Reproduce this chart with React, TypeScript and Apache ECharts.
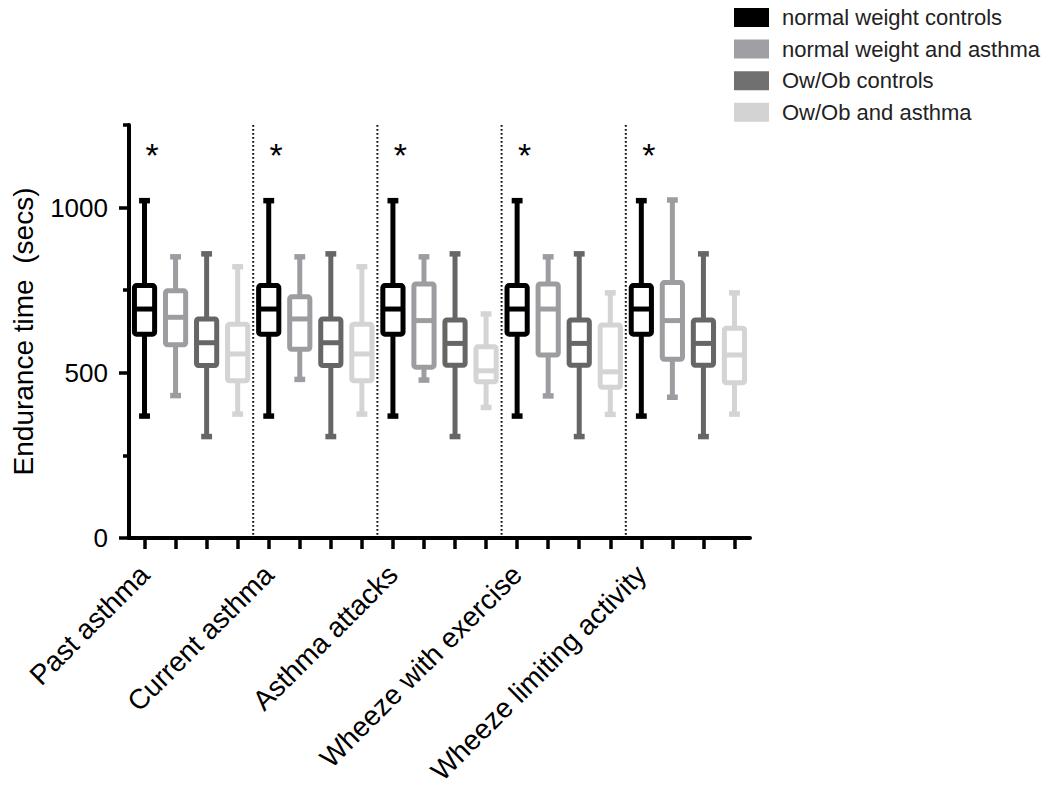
import React, { useEffect, useRef } from "react";
import * as echarts from "echarts";

const groups = [
  "Past asthma",
  "Current asthma",
  "Asthma attacks",
  "Wheeze with exercise",
  "Wheeze limiting activity",
];
const seriesNames = [
  "normal weight controls",
  "normal weight and asthma",
  "Ow/Ob controls",
  "Ow/Ob and asthma",
];
const seriesColors = ["#000000", "#9d9da1", "#666666", "#d4d4d4"];
const legendColors = ["#000000", "#a0a0a4", "#707070", "#d3d3d3"];

// [min, q1, median, q3, max] per group
const nwControls = [
  [369, 617, 693, 764, 1021],
  [369, 617, 693, 764, 1021],
  [369, 617, 693, 764, 1021],
  [369, 617, 693, 764, 1021],
  [369, 617, 693, 764, 1021],
];
const nwAsthma = [
  [431, 585, 668, 748, 851],
  [480, 571, 663, 730, 851],
  [478, 517, 658, 769, 851],
  [430, 554, 693, 769, 851],
  [426, 541, 658, 773, 1023],
];
const owobControls = [
  [307, 522, 591, 663, 860],
  [307, 522, 591, 663, 860],
  [307, 523, 589, 660, 860],
  [307, 523, 589, 660, 860],
  [307, 523, 589, 660, 860],
];
const owobAsthma = [
  [375, 476, 557, 647, 821],
  [375, 476, 557, 647, 821],
  [395, 473, 506, 579, 678],
  [374, 456, 503, 645, 742],
  [375, 470, 554, 635, 742],
];
const allSeries = [nwControls, nwAsthma, owobControls, owobAsthma];

const significantGroups = [0, 1, 2, 3, 4];
const asteriskValue = 1160;
const yMajorTicks = [0, 500, 1000];
const yMinorTicks = [250, 750, 1250];
const yMax = 1250;

const FONT = "'Liberation Sans', Arial, Helvetica, sans-serif";

export default function App() {
  const ref = useRef<HTMLDivElement>(null);

  useEffect(() => {
    if (!ref.current) return;
    const chart = echarts.init(ref.current, null, { renderer: "svg" });
    const nS = seriesNames.length;
    const slots = groups.flatMap((g) => seriesNames.map((s) => g + " | " + s));

    const boxSeries = allSeries.map((arr, s) => ({
      name: seriesNames[s],
      type: "custom",
      xAxisIndex: 0,
      yAxisIndex: 0,
      itemStyle: { color: seriesColors[s] },
      encode: { x: 0, y: [1, 2, 3, 4, 5] },
      data: arr.map((v, g) => [g * nS + s, ...v]),
      renderItem: (params: any, api: any) => {
        const idx = api.value(0);
        const lo = api.coord([idx, api.value(1)]);
        const q1 = api.coord([idx, api.value(2)]);
        const md = api.coord([idx, api.value(3)]);
        const q3 = api.coord([idx, api.value(4)]);
        const hi = api.coord([idx, api.value(5)]);
        const band = api.size([1, 0])[0];
        const bw = band * 0.65;
        const cw = band * 0.35;
        const cx = lo[0];
        const c = seriesColors[s];
        const lw = 5;
        return {
          type: "group",
          children: [
            { type: "line", shape: { x1: cx, y1: hi[1], x2: cx, y2: q3[1] }, style: { stroke: c, lineWidth: lw } },
            { type: "line", shape: { x1: cx, y1: q1[1], x2: cx, y2: lo[1] }, style: { stroke: c, lineWidth: lw } },
            { type: "line", shape: { x1: cx - cw / 2, y1: hi[1], x2: cx + cw / 2, y2: hi[1] }, style: { stroke: c, lineWidth: 5.5 } },
            { type: "line", shape: { x1: cx - cw / 2, y1: lo[1], x2: cx + cw / 2, y2: lo[1] }, style: { stroke: c, lineWidth: 5.5 } },
            {
              type: "rect",
              shape: { x: cx - bw / 2, y: q3[1], width: bw, height: q1[1] - q3[1], r: 2 },
              style: { fill: "#ffffff", stroke: c, lineWidth: lw, lineJoin: "round" },
            },
            { type: "line", shape: { x1: cx - bw / 2, y1: md[1], x2: cx + bw / 2, y2: md[1] }, style: { stroke: c, lineWidth: lw } },
          ],
        };
      },
    }));

    const separatorSeries = {
      name: "separators",
      type: "custom",
      silent: true,
      data: groups.slice(1).map((_, i) => [(i + 1) * nS, 0]),
      encode: { x: 0, y: 1 },
      renderItem: (params: any, api: any) => {
        const idx = api.value(0);
        const band = api.size([1, 0])[0];
        const bottom = api.coord([idx, 0]);
        const top = api.coord([idx, yMax]);
        const x = bottom[0] - band / 2;
        return {
          type: "line",
          shape: { x1: x, y1: top[1], x2: x, y2: bottom[1] },
          style: { stroke: "#111", lineWidth: 2, lineDash: [1.8, 2.2] },
        };
      },
      z: 1,
    };

    const asteriskSeries = {
      name: "significance",
      type: "custom",
      silent: true,
      data: significantGroups.map((g) => [g * nS, asteriskValue]),
      encode: { x: 0, y: 1 },
      renderItem: (params: any, api: any) => {
        const p = api.coord([api.value(0), api.value(1)]);
        return {
          type: "text",
          x: p[0] + 7.5,
          y: p[1],
          style: {
            text: "*",
            fontSize: 34,
            fontFamily: FONT,
            fill: "#000",
            align: "center",
            verticalAlign: "middle",
          },
        };
      },
    };

    const option: any = {
      animation: false,
      backgroundColor: "#ffffff",
      legend: {
        orient: "vertical",
        left: 729,
        top: 1.5,
        itemWidth: 35,
        itemHeight: 19,
        itemGap: 9.6,
        icon: "rect",
        selectedMode: false,
        textStyle: { fontSize: 22, color: "#222", fontFamily: FONT, padding: [0, 0, 0, 8] },
        data: seriesNames.map((n, i) => ({ name: n, itemStyle: { color: legendColors[i], borderWidth: 0 } })),
      },
      grid: { left: 129, top: 125, width: 621, height: 413, containLabel: false },
      xAxis: {
        type: "category",
        data: slots,
        boundaryGap: true,
        axisLine: { show: true, lineStyle: { color: "#000", width: 4 } },
        axisTick: { show: true, alignWithLabel: true, interval: 0, length: 11, lineStyle: { color: "#000", width: 3.5 } },
        axisLabel: {
          interval: 0,
          rotate: 45,
          margin: 32,
          fontSize: 28,
          fontFamily: FONT,
          color: "#000",
          formatter: (v: string, i: number) => (i % nS === 0 ? groups[i / nS] : ""),
        },
        splitLine: { show: false },
      },
      yAxis: [
        {
          type: "value",
          position: "left",
          min: 0,
          max: yMax,
          interval: 250,
          name: "Endurance time  (secs)",
          nameLocation: "middle",
          nameGap: 92,
          nameTextStyle: { fontSize: 28, color: "#000", fontFamily: FONT },
          axisLine: { show: true, lineStyle: { color: "#000", width: 4 } },
          axisTick: { show: true, length: 10, customValues: yMajorTicks, lineStyle: { color: "#000", width: 3.5 } },
          axisLabel: {
            customValues: yMajorTicks,
            margin: 21,
            fontSize: 26,
            fontFamily: FONT,
            color: "#000",
            formatter: (v: number) => (v % 500 === 0 ? String(v) : ""),
          },
          splitLine: { show: false },
        },
        {
          type: "value",
          position: "left",
          offset: 0,
          min: 0,
          max: yMax,
          interval: 250,
          axisLine: { show: false },
          axisTick: { show: true, length: 6, customValues: yMinorTicks, lineStyle: { color: "#000", width: 3.5 } },
          axisLabel: { show: false },
          splitLine: { show: false },
        },
      ],
      series: [separatorSeries, ...boxSeries, asteriskSeries],
    };
    chart.setOption(option);
    return () => chart.dispose();
  }, []);

  return (
    <div
      ref={ref}
      style={{ position: "fixed", left: 0, top: 0, width: 1050, height: 789, background: "#fff" }}
    />
  );
}
